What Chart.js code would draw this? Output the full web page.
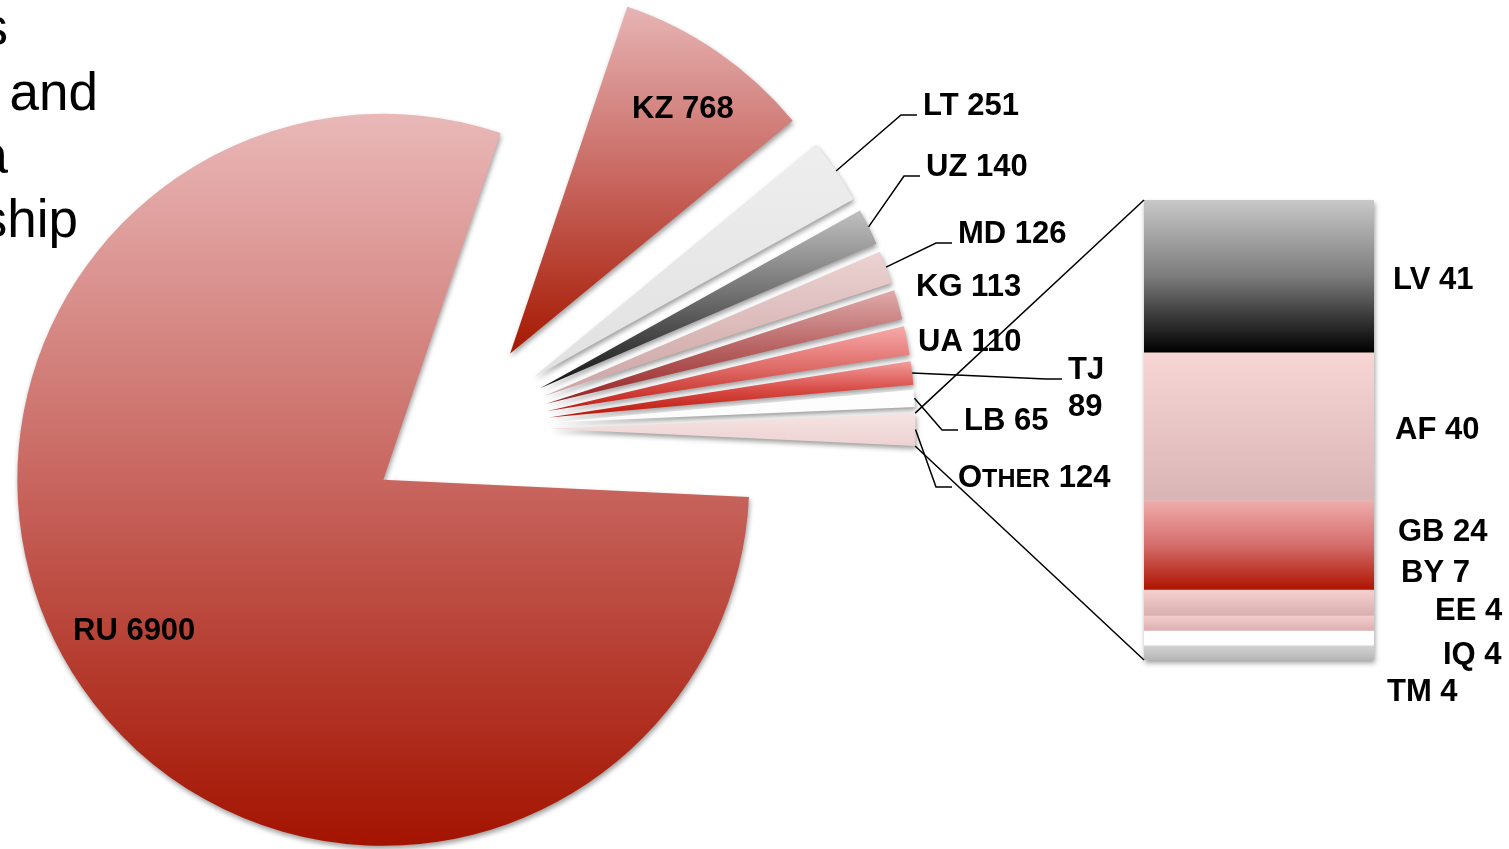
<!DOCTYPE html>
<html>
<head>
<meta charset="utf-8">
<script src="https://cdn.jsdelivr.net/npm/chart.js@4.4.1/dist/chart.umd.min.js"></script>
<style>
  html, body { margin: 0; padding: 0; background: #fff; overflow: hidden; }
  #wrap { position: relative; width: 1509px; height: 849px; overflow: hidden; }
  #wrap canvas { position: absolute; left: 0; top: 0; }
  .slide-text {
    position: absolute;
    font-family: "Liberation Sans", Arial, sans-serif;
    font-size: 53px;
    line-height: 53px;
    color: #000;
    white-space: nowrap;
  }
</style>
</head>
<body>
<div id="wrap">
  <!-- bits of the slide text that sits left of the chart -->
  <div class="slide-text" style="right:1501px; top:0px;">s</div>
  <div class="slide-text" style="right:1411px; top:65px;">and</div>
  <div class="slide-text" style="right:1501px; top:128px;">a</div>
  <div class="slide-text" style="right:1431px; top:192px;">ship</div>
  <canvas id="pie" width="1509" height="849"></canvas>
  <canvas id="bar" width="1509" height="849"></canvas>
</div>
<script>
// pie slices (last one is broken out in the bar)
const pieLabels = ['RU', 'KZ', 'LT', 'UZ', 'MD', 'KG', 'UA', 'TJ', 'LB', 'Other'];
const pieValues = [6900, 768, 251, 140, 126, 113, 110, 89, 65, 124];

// breakdown of "Other"
const otherLabels = ['LV', 'AF', 'GB', 'BY', 'EE', 'IQ', 'TM'];
const otherValues = [41, 40, 24, 7, 4, 4, 4];

// gradient stops, top to bottom
const pieColors = [
  ['#e9b8b8', '#c8665f', '#a31300'],  // RU
  ['#e6b4b4', '#c8665f', '#a51800'],  // KZ
  ['#eeeeee', '#e1e1e1'],             // LT
  ['#c0c0c0', '#6c6c6c', '#101010'],  // UZ
  ['#ecd2d2', '#cca4a4'],             // MD
  ['#e0abab', '#b86464', '#962222'],  // KG
  ['#f7aaaa', '#de6a66', '#c01a10'],  // UA
  ['#f29c9c', '#d84c46', '#ba1408'],  // TJ
  ['#ffffff', '#fbfbfb'],             // LB
  ['#f6e3e3', '#eed2d2']              // Other
];
const otherColors = [
  ['#c8c8c8', '#7c7c7c', '#000000'],  // LV
  ['#f8d6d6', '#d9b4b4'],             // AF
  ['#f0acac', '#d46e6c', '#ae1400'],  // GB
  ['#f6d0d0', '#d9afaf'],             // BY
  ['#f6cdcd', '#dcb0b0'],             // EE
  ['#ffffff', '#ffffff'],             // IQ
  ['#d4d4d4', '#b6b6b6']              // TM
];

// hand placed data labels (left edge, middle of the caps)
const pieLabelPos = [
  { x: 73, y: 629 },
  { x: 632, y: 107 },
  { x: 923, y: 104, leader: true },
  { x: 926, y: 165, leader: true },
  { x: 958, y: 232, leader: true },
  { x: 916, y: 285 },
  { x: 918, y: 340 },
  { x: 1068, y: 368, leader: true, wrap: true },
  { x: 964, y: 419, leader: true },
  { x: 958, y: 476, leader: true, smallCaps: true }
];
const otherLabelPos = [
  { x: 1393, y: 278 },
  { x: 1395, y: 428 },
  { x: 1398, y: 530 },
  { x: 1401, y: 571 },
  { x: 1435, y: 609 },
  { x: 1443, y: 653 },
  { x: 1387, y: 690 }
];

const EXPLODE = 91;
const LABEL_FONT = 'bold 31px "Liberation Sans", Arial, sans-serif';
const SMALL_FONT = 'bold 25px "Liberation Sans", Arial, sans-serif';

function fillGradient(ctx, top, bottom, stops) {
  const g = ctx.createLinearGradient(0, top, 0, bottom);
  stops.forEach((c, k) => g.addColorStop(k / (stops.length - 1), c));
  return g;
}

function setShadow(ctx) {
  ctx.shadowColor = 'rgba(0,0,0,0.38)';
  ctx.shadowBlur = 5;
  ctx.shadowOffsetX = 1;
  ctx.shadowOffsetY = 3;
}

// text label, y is the middle of the capitals
function drawLabel(ctx, name, value, pos) {
  const base = pos.y + 11;
  ctx.font = LABEL_FONT;
  if (pos.wrap) {
    ctx.fillText(name, pos.x, base);
    ctx.fillText(String(value), pos.x, base + 37);
    return;
  }
  if (pos.smallCaps) {
    const up = name.toUpperCase();
    let x = pos.x;
    ctx.fillText(up[0], x, base);
    x += ctx.measureText(up[0]).width;
    ctx.font = SMALL_FONT;
    ctx.fillText(up.slice(1), x, base);
    x += ctx.measureText(up.slice(1)).width;
    ctx.font = LABEL_FONT;
    ctx.fillText(' ' + value, x, base);
    return;
  }
  ctx.fillText(name + ' ' + value, pos.x, base);
}

// soft drop shadow under each slice
const sliceShadowPlugin = {
  id: 'sliceShadow',
  beforeDatasetsDraw(chart) {
    chart.ctx.save();
    setShadow(chart.ctx);
  },
  afterDatasetsDraw(chart) {
    chart.ctx.restore();
  }
};

// pull every slice out along its middle angle, then give it its own gradient
const explodePlugin = {
  id: 'explode',
  afterDatasetUpdate(chart, args) {
    args.meta.data.forEach((arc, i) => {
      const mid = (arc.startAngle + arc.endAngle) / 2;
      arc.x += Math.cos(mid) * EXPLODE;
      arc.y += Math.sin(mid) * EXPLODE;
      let top = arc.y, bottom = arc.y;
      for (let k = 0; k <= 180; k++) {
        const a = arc.startAngle + (arc.endAngle - arc.startAngle) * k / 180;
        const py = arc.y + Math.sin(a) * arc.outerRadius;
        top = Math.min(top, py);
        bottom = Math.max(bottom, py);
      }
      arc.options.backgroundColor = fillGradient(chart.ctx, top, bottom, pieColors[i]);
    });
  }
};

const pieLabelPlugin = {
  id: 'pieLabels',
  afterDraw(chart) {
    const ctx = chart.ctx;
    const arcs = chart.getDatasetMeta(0).data;
    ctx.save();
    ctx.strokeStyle = '#000';
    ctx.fillStyle = '#000';
    ctx.lineWidth = 1.5;
    ctx.textAlign = 'left';
    ctx.textBaseline = 'alphabetic';
    arcs.forEach((arc, i) => {
      const pos = pieLabelPos[i];
      if (pos.leader) {
        const mid = (arc.startAngle + arc.endAngle) / 2;
        ctx.beginPath();
        ctx.moveTo(arc.x + Math.cos(mid) * arc.outerRadius, arc.y + Math.sin(mid) * arc.outerRadius);
        ctx.lineTo(pos.x - 22, pos.y + 11);
        ctx.lineTo(pos.x - 6, pos.y + 11);
        ctx.stroke();
      }
      drawLabel(ctx, pieLabels[i], pieValues[i], pos);
    });
    ctx.restore();
  }
};

const pieChart = new Chart(document.getElementById('pie'), {
  type: 'pie',
  data: {
    labels: pieLabels,
    datasets: [{
      data: pieValues,
      backgroundColor: pieColors.map(s => s[0]),
      borderWidth: 0,
      clip: false
    }]
  },
  options: {
    responsive: false,
    animation: false,
    events: [],
    rotation: 92.7,
    radius: 366,
    layout: { padding: { left: 0, right: 592, top: 8, bottom: 0 } },
    plugins: {
      legend: { display: false },
      tooltip: { enabled: false }
    }
  },
  plugins: [explodePlugin, sliceShadowPlugin, pieLabelPlugin]
});

// outline of the whole stacked bar
function stackBounds(chart) {
  const first = chart.getDatasetMeta(0).data[0];
  const last = chart.getDatasetMeta(otherValues.length - 1).data[0];
  return {
    left: first.x - first.width / 2,
    right: first.x + first.width / 2,
    top: Math.min(first.y, first.base),
    bottom: Math.max(last.y, last.base)
  };
}

// one shadow behind the whole stack, not per segment
const barShadowPlugin = {
  id: 'barShadow',
  beforeDatasetsDraw(chart) {
    const b = stackBounds(chart);
    const ctx = chart.ctx;
    ctx.save();
    setShadow(ctx);
    ctx.fillStyle = '#fff';
    ctx.fillRect(b.left, b.top, b.right - b.left, b.bottom - b.top);
    ctx.restore();
  }
};

// series lines from the "Other" slice to the bar, plus the bar labels
const barLinksPlugin = {
  id: 'barLinks',
  afterDraw(chart) {
    const ctx = chart.ctx;
    const b = stackBounds(chart);
    const other = pieChart.getDatasetMeta(0).data[pieLabels.length - 1];
    const r = other.outerRadius;
    ctx.save();
    ctx.strokeStyle = '#000';
    ctx.lineWidth = 1.5;
    ctx.beginPath();
    ctx.moveTo(other.x + Math.cos(other.startAngle) * r, other.y + Math.sin(other.startAngle) * r);
    ctx.lineTo(b.left, b.top);
    ctx.moveTo(other.x + Math.cos(other.endAngle) * r, other.y + Math.sin(other.endAngle) * r);
    ctx.lineTo(b.left, b.bottom);
    ctx.stroke();
    ctx.fillStyle = '#000';
    ctx.textAlign = 'left';
    ctx.textBaseline = 'alphabetic';
    otherLabels.forEach((name, i) => drawLabel(ctx, name, otherValues[i], otherLabelPos[i]));
    ctx.restore();
  }
};

const otherTotal = otherValues.reduce((a, b) => a + b, 0);

function barGradient(c) {
  const i = c.datasetIndex;
  const y = c.chart.scales.y;
  if (!y || !c.chart.chartArea) return otherColors[i][0];
  const start = otherValues.slice(0, i).reduce((a, b) => a + b, 0);
  const top = y.getPixelForValue(start);
  const bottom = y.getPixelForValue(start + otherValues[i]);
  return fillGradient(c.chart.ctx, top, bottom, otherColors[i]);
}

const barChart = new Chart(document.getElementById('bar'), {
  type: 'bar',
  data: {
    labels: ['Other'],
    datasets: otherLabels.map((name, i) => ({
      label: name,
      data: [otherValues[i]],
      backgroundColor: barGradient,
      borderWidth: 0,
      categoryPercentage: 1,
      barPercentage: 1
    }))
  },
  options: {
    responsive: false,
    animation: false,
    events: [],
    layout: { padding: { left: 1144, right: 135, top: 200, bottom: 189 } },
    scales: {
      x: { display: false, stacked: true },
      y: { display: false, stacked: true, min: 0, max: otherTotal, reverse: true }
    },
    plugins: {
      legend: { display: false },
      tooltip: { enabled: false }
    }
  },
  plugins: [barShadowPlugin, barLinksPlugin]
});
</script>
</body>
</html>
